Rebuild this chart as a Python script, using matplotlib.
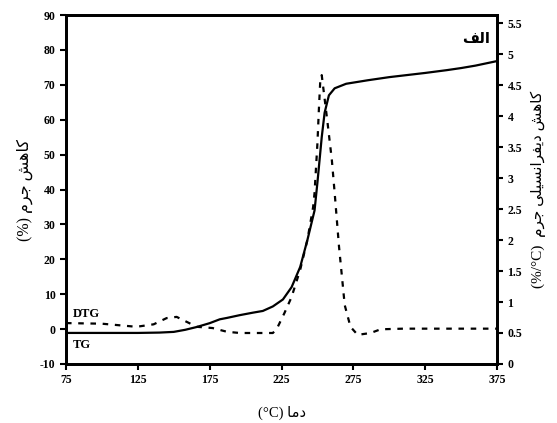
import numpy as np
import matplotlib
matplotlib.use("Agg")
import matplotlib.pyplot as plt

plt.rcParams['font.family'] = ['Liberation Serif', 'DejaVu Sans']
plt.rcParams['font.weight'] = 'bold'
plt.rcParams['axes.unicode_minus'] = False

# TG curve (mass loss, %), left axis
tg_temp = [75, 100, 125, 140, 150, 158, 166, 175, 182, 187, 196, 205, 212, 219, 226, 232,
           238, 243, 248, 250, 253, 255, 258, 262, 270, 285, 300, 325, 340, 350, 360, 375]
tg_val = [-1.1, -1.1, -1.1, -1.0, -0.8, -0.2, 0.6, 1.7, 2.8, 3.2, 4.0, 4.7, 5.2, 6.5, 8.5, 12.0,
          17.8, 25.5, 34.0, 42.0, 55.0, 62.0, 67.0, 69.0, 70.3, 71.3, 72.2, 73.4, 74.2, 74.8, 75.5, 76.8]

# DTG curve (%/°C), right axis
dtg_temp = [75, 100, 124, 136, 145, 152, 159, 166, 177, 187, 196, 210, 219, 222, 227,
            232, 238, 243, 247, 248, 250, 251, 252, 253, 257, 260, 262, 265, 269, 273,
            278, 287, 294, 310, 340, 375]
dtg_val = [0.66, 0.65, 0.6, 0.64, 0.74, 0.76, 0.68, 0.6, 0.58, 0.52, 0.5, 0.5, 0.5, 0.58, 0.82,
           1.08, 1.52, 2.0, 2.53, 2.76, 3.56, 4.1, 4.58, 4.66, 3.9, 3.3, 2.76, 1.9, 0.95, 0.6,
           0.47, 0.5, 0.56, 0.57, 0.57, 0.57]

x_ticks = [75, 125, 175, 225, 275, 325, 375]
y_ticks = list(range(-10, 91, 10))
y2_ticks = [0, 0.5, 1, 1.5, 2, 2.5, 3, 3.5, 4, 4.5, 5, 5.5]
y2_labels = ['0', '0.5', '1', '1.5', '2', '2.5', '3', '3.5', '4', '4.5', '5', '5.5']

# Persian texts, pre-shaped into presentation forms in visual order
title_txt = "\uFED2\uFEDF\uFE8D"  # الف
ylabel_txt = "(%) \uFEE1\uFEAE\uFE9F \uFEB6\uFEEB\uFE8E\uFB90"  # کاهش جرم (%)
y2label_txt = ("(%/\u00b0C)  \uFEE1\uFEAE\uFE9F "
               "\uFBFD\uFEE0\uFBFF\uFEB4\uFEE7\uFE8D\uFEAE\uFED4\uFBFE\uFEA9 "
               "\uFEB6\uFEEB\uFE8E\uFB90")  # کاهش دیفرانسیلی جرم (%/°C)
xlabel_txt = "(\u00b0C) \uFE8E\uFEE3\uFEA9"  # دما (°C)

fig = plt.figure(figsize=(5.57, 4.23), dpi=100)
ax = fig.add_axes([0.1185, 0.1395, 0.7738, 0.825])
ax2 = ax.twinx()

ax.plot(tg_temp, tg_val, color='black', lw=1.6, solid_capstyle='round')
ax2.plot(dtg_temp, dtg_val, color='black', lw=1.6, ls=(0, (2.5, 3)))

ax.set_xlim(75, 375)
ax.set_ylim(-10, 90)
ax2.set_ylim(0, 5.63)
ax.set_xticks(x_ticks)
ax.set_yticks(y_ticks)
ax2.set_yticks(y2_ticks)
ax2.set_yticklabels(y2_labels)

for a in (ax, ax2):
    for s in a.spines.values():
        s.set_linewidth(2)
    a.tick_params(direction='out', length=4, width=1.5, labelsize=8.5)

ax.set_xlabel(xlabel_txt, fontsize=10.5, labelpad=14)
ax.set_ylabel(ylabel_txt, fontsize=11.5, labelpad=5)
ax2.set_ylabel(y2label_txt, fontsize=11, labelpad=6, rotation=90)

ax.text(80, 3.5, "DTG", fontsize=9)
ax.text(80, -5.5, "TG", fontsize=9)
ax.text(370, 82, title_txt, fontsize=10.5, ha='right')

fig.savefig("out.png", dpi=100)
